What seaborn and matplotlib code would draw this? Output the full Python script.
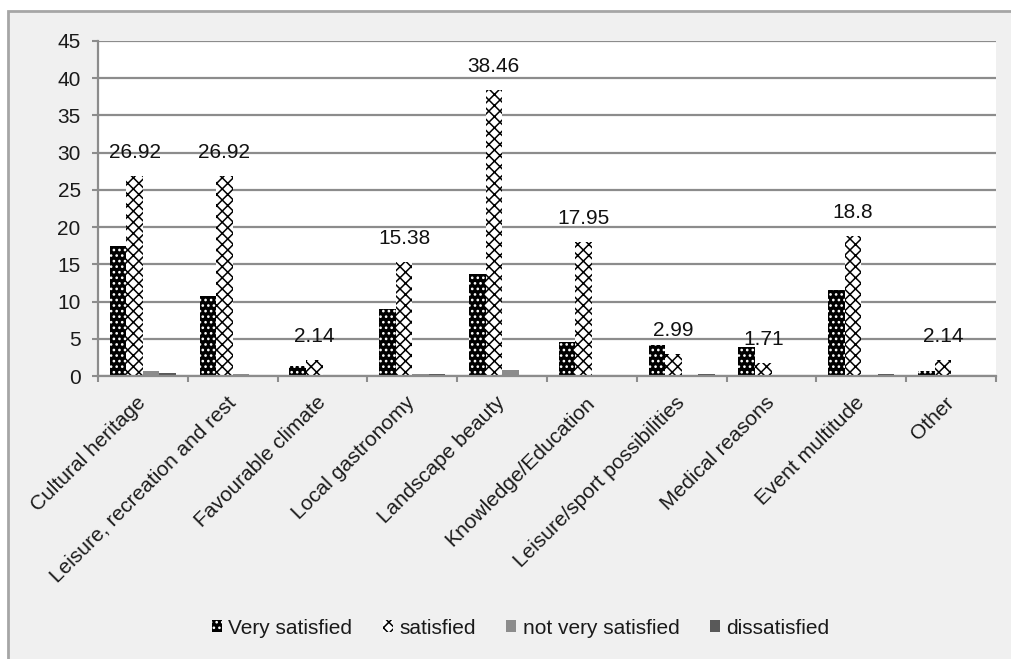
import numpy as np
import pandas as pd
import matplotlib
matplotlib.use("Agg")
import matplotlib.pyplot as plt
import seaborn as sns
from matplotlib.patches import Patch, Rectangle

# Travel motives and satisfaction shares (%)
categories = [
    "Cultural heritage",
    "Leisure, recreation and rest",
    "Favourable climate",
    "Local gastronomy",
    "Landscape beauty",
    "Knowledge/Education",
    "Leisure/sport possibilities",
    "Medical reasons",
    "Event multitude",
    "Other",
]
series_names = ["Very satisfied", "satisfied", "not very satisfied", "dissatisfied"]

very_satisfied = [17.5, 10.7, 1.3, 9.0, 13.7, 4.6, 4.2, 3.9, 11.5, 0.7]
satisfied = [26.92, 26.92, 2.14, 15.38, 38.46, 17.95, 2.99, 1.71, 18.8, 2.14]
not_very_satisfied = [0.7, 0.3, 0.0, 0.3, 0.8, 0.0, 0.0, 0.0, 0.0, 0.0]
dissatisfied = [0.4, 0.0, 0.0, 0.3, 0.0, 0.0, 0.3, 0.0, 0.3, 0.0]

y_ticks = [0, 5, 10, 15, 20, 25, 30, 35, 40, 45]

df = pd.DataFrame({
    "reason": np.tile(categories, len(series_names)),
    "level": np.repeat(series_names, len(categories)),
    "share": np.concatenate([very_satisfied, satisfied, not_very_satisfied, dissatisfied]),
})

sns.set_style("white")
plt.rcParams["font.family"] = ["Liberation Sans", "DejaVu Sans"]
plt.rcParams["hatch.linewidth"] = 1.1

W, H = 1011, 659
fig = plt.figure(figsize=(W / 100, H / 100), dpi=100, facecolor="white")

# grey panel with a frame on its left and top edges
fig.patches.append(Rectangle((8 / W, -0.02), 1.0, 1 - 11 / H + 0.02,
                             transform=fig.transFigure, facecolor="#f0f0f0",
                             edgecolor="#a6a6a6", lw=2, zorder=-10))

ax = fig.add_axes([98 / W, 1 - 376 / H, (996 - 98) / W, (376 - 41) / H])
ax.set_facecolor("white")

sns.barplot(data=df, x="reason", y="share", hue="level", order=categories,
            hue_order=series_names, width=0.735, gap=0, ax=ax, legend=False,
            palette=["black", "white", "#8c8c8c", "#595959"], saturation=1,
            errorbar=None)

styles = [
    dict(fc="black", hc="white", hatch="..."),
    dict(fc="white", hc="black", hatch="xxx"),
    dict(fc="#8c8c8c", hc="#8c8c8c", hatch=None),
    dict(fc="#595959", hc="#595959", hatch=None),
]
for cont, st in zip(ax.containers, styles):
    for bar in cont:
        bar.set_facecolor(st["fc"])
        bar.set_edgecolor(st["hc"])
        bar.set_linewidth(0)
        if st["hatch"]:
            bar.set_hatch(st["hatch"])

ax.bar_label(ax.containers[1], labels=[f"{v:g}" for v in satisfied],
             padding=10, fontsize=15, color="#111111")

ax.set_xlim(-0.5, len(categories) - 0.5)
ax.set_ylim(0, 45)
ax.set_yticks(y_ticks)
ax.yaxis.grid(True, color="#8c8c8c", lw=1.6)
ax.xaxis.grid(False)
ax.set_axisbelow(True)
ax.set_xlabel("")
ax.set_ylabel("")

for side in ["top", "right"]:
    ax.spines[side].set_visible(False)
for side in ["left", "bottom"]:
    ax.spines[side].set_color("#8c8c8c")
    ax.spines[side].set_linewidth(1.6)

ax.tick_params(axis="y", left=True, length=4.5, width=1.5, color="#8c8c8c",
               labelsize=15, pad=8, labelcolor="#1a1a1a")

ax.set_xticks(range(len(categories)))
ax.set_xticklabels(categories, rotation=45, ha="right", va="center",
                   rotation_mode="anchor", color="#1a1a1a")
ax.tick_params(axis="x", which="major", length=0, pad=17, labelsize=15)
ax.set_xticks(np.arange(-0.5, len(categories), 1), minor=True)
ax.tick_params(axis="x", which="minor", bottom=True, length=4.5, width=1.5,
               color="#8c8c8c")

handles = [
    Patch(facecolor="black", edgecolor="white", hatch="...", lw=0),
    Patch(facecolor="white", edgecolor="black", hatch="xxx", lw=0),
    Patch(facecolor="#8c8c8c", edgecolor="#8c8c8c", lw=0),
    Patch(facecolor="#595959", edgecolor="#595959", lw=0),
]
fig.legend(handles, series_names, loc="center", bbox_to_anchor=(0.515, 0.047),
           ncol=4, frameon=False, fontsize=15, handlelength=0.5,
           handleheight=0.5, handletextpad=0.3, columnspacing=1.45,
           labelcolor="#1a1a1a")

fig.savefig("out.png", dpi=100, facecolor=fig.get_facecolor())
